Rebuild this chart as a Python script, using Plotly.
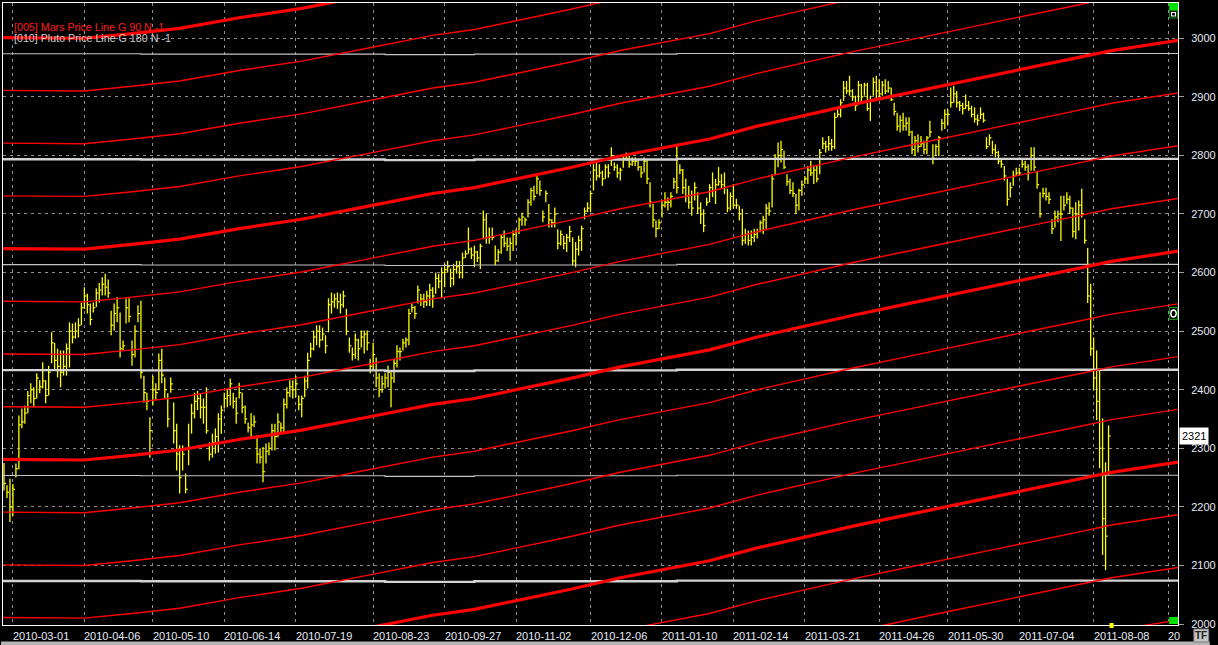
import plotly.graph_objects as go

# ---------------- data ----------------
highs = [2275,2237,2248,2239,2274,2356,2368,2373,2398,2411,2404,2428,2416,2447,2416,2441,2498,2480,2470,2467,
         2467,2479,2515,2513,2515,2522,2549,2575,2564,2547,2549,2573,2582,2592,2598,2588,2535,2547,2558,2532,
         2484,2556,2556,2484,2510,2544,2552,2424,2395,2353,2424,2411,2462,2470,2421,2394,2421,2378,2342,2305,
         2305,2257,2342,2376,2395,2398,2394,2385,2404,2310,2325,2334,2360,2373,2395,2402,2419,2395,2387,
         2412,2395,2373,2344,2360,2356,2322,2300,2302,2308,2310,2342,2342,2360,2344,2385,2404,2416,2416,2424,
         2390,2390,2424,2463,2480,2501,2510,2510,2506,2493,2556,2566,2564,2566,2564,2569,2538,2489,2472,2496,
         2487,2501,2501,2501,2453,2480,2455,2428,2424,2428,2441,2430,2453,2476,2472,2487,2489,2538,2547,2543,
         2578,2564,2564,2569,2581,2575,2600,2598,2609,2615,2620,2607,2615,2620,2620,2634,2638,
         2677,2643,2646,2637,2649,2706,2700,2677,2677,2646,2640,2666,2672,2660,2660,2672,2674,2694,2702,2694,
         2725,2745,2748,2765,2757,2706,2740,2717,2691,2711,2674,2672,2663,2666,2680,2660,2652,2663,2680,2711,
         2720,2740,2785,2788,2785,2774,2785,2785,2814,2788,2785,2779,2800,2805,2800,2797,2797,2794,2782,2797,
         2794,2754,2717,2689,2691,2723,2737,2728,2737,2762,2820,2785,2777,2760,2748,2740,2754,2737,2720,2708,
         2728,2751,
         2771,2760,2780,2768,2771,2743,2737,2751,2726,2714,2709,2675,2672,2672,2675,2675,2689,2697,2717,2720,
         2768,2802,2822,2825,2808,2768,2760,2754,2734,2743,2757,2765,2782,2791,2782,2782,2811,2831,2825,2833,
         2828,2873,2879,2896,2927,2927,2936,2913,2902,2927,2922,2924,2924,2902,2933,2936,2930,2927,2930,2927,
         2916,2890,2873,2868,2873,2865,2865,2842,2833,2836,2833,2825,2833,2859,2819,2819,2833,2862,2879,
         2879,2916,2919,2910,2893,2890,2904,2893,2885,2882,2870,2882,2873,2831,2836,2825,2819,2808,2794,2782,
         2760,2754,2774,2779,2779,2794,2791,2785,2814,2814,2774,2737,2745,2745,2737,2691,2706,2706,2731,2731,
         2737,2731,2711,2720,2723,2743,2691,2642,2581,2489,2467,2433,2351,2276,2339]

lows = [2228,2215,2174,2185,2250,2264,2334,2342,2360,2377,2370,2385,2394,2402,2377,2390,2445,2433,2421,2404,
        2424,2424,2438,2479,2487,2489,2510,2538,2530,2510,2532,2541,2549,2561,2561,2557,2493,2501,2515,2455,
        2467,2513,2515,2441,2455,2515,2419,2378,2365,2284,2373,2382,2399,2411,2385,2336,2395,2308,2262,2223,
        2262,2223,2271,2325,2351,2365,2351,2342,2325,2279,2284,2291,2293,2325,2368,2370,2373,2368,2342,
        2385,2360,2342,2327,2317,2336,2274,2274,2242,2274,2288,2296,2296,2319,2325,2327,2368,2387,2385,2387,
        2365,2353,2387,2402,2455,2467,2476,2472,2484,2462,2498,2530,2540,2538,2530,2540,2493,2463,2450,2453,
        2450,2472,2462,2467,2428,2433,2404,2387,2395,2402,2404,2370,2412,2438,2450,2467,2472,2476,2532,2521,
        2547,2543,2540,2543,2543,2540,2564,2573,2556,2575,2600,2575,2578,2598,2590,2590,2625,
        2632,2623,2609,2618,2606,2657,2649,2649,2655,2612,2618,2632,2643,2637,2620,2637,2646,2666,2680,2680,
        2694,2714,2723,2734,2731,2686,2720,2677,2677,2677,2640,2646,2640,2635,2652,2612,2609,2629,2637,2691,
        2703,2703,2740,2757,2762,2748,2760,2762,2782,2774,2762,2757,2779,2791,2779,2782,2782,2774,2762,2771,
        2751,2711,2677,2660,2674,2694,2711,2706,2711,2743,2735,2768,2734,2720,2709,2697,2723,2700,2683,2669,
        2714,2720,
        2729,2717,2748,2743,2734,2703,2706,2709,2709,2689,2646,2649,2646,2646,2652,2658,2669,2666,2675,2697,
        2711,2768,2780,2788,2777,2748,2734,2729,2700,2706,2731,2751,2751,2765,2751,2754,2768,2811,2805,2808,
        2808,2811,2865,2865,2893,2905,2902,2893,2876,2887,2890,2902,2876,2859,2902,2893,2899,2902,2905,2907,
        2893,2868,2842,2839,2842,2842,2833,2802,2799,2805,2814,2802,2802,2831,2785,2799,2799,2842,2845,
        2851,2882,2890,2882,2876,2870,2879,2876,2865,2856,2851,2862,2856,2811,2817,2802,2797,2785,2779,2757,
        2714,2728,2748,2765,2765,2779,2774,2757,2774,2774,2743,2694,2728,2723,2717,2666,2677,2686,2654,2706,
        2717,2700,2660,2657,2672,2694,2649,2548,2458,2399,2348,2266,2118,2092,2254]

closes = [2240,2225,2200,2230,2265,2340,2345,2360,2390,2400,2385,2420,2405,2415,2390,2430,2480,2450,2440,2430,
          2440,2470,2500,2490,2500,2510,2540,2560,2545,2520,2540,2565,2570,2580,2575,2565,2510,2530,2540,2470,
          2475,2540,2525,2460,2500,2530,2430,2395,2380,2330,2400,2395,2450,2425,2400,2350,2410,2330,2290,2250,
          2290,2230,2300,2360,2380,2385,2370,2370,2330,2290,2310,2320,2350,2365,2385,2390,2410,2380,2360,
          2395,2370,2350,2335,2340,2345,2290,2285,2260,2295,2300,2330,2320,2345,2335,2375,2395,2405,2400,2410,
          2375,2385,2415,2450,2470,2490,2500,2485,2495,2475,2545,2550,2555,2550,2545,2560,2500,2475,2460,2485,
          2470,2490,2495,2480,2440,2460,2420,2400,2410,2420,2430,2420,2445,2465,2465,2480,2485,2530,2540,2530,
          2570,2555,2550,2560,2570,2560,2590,2585,2600,2605,2610,2590,2605,2610,2600,2625,2632,
          2640,2630,2635,2625,2645,2690,2660,2660,2660,2620,2635,2660,2650,2645,2650,2665,2670,2690,2695,2690,
          2720,2740,2730,2760,2740,2695,2735,2690,2685,2700,2650,2665,2650,2660,2670,2620,2640,2655,2675,2705,
          2710,2735,2775,2765,2770,2760,2780,2770,2800,2780,2770,2775,2795,2795,2785,2790,2790,2780,2770,2790,
          2760,2720,2690,2675,2685,2715,2720,2720,2730,2755,2745,2775,2745,2730,2720,2710,2745,2710,2700,2680,
          2720,2745,
          2740,2750,2755,2750,2745,2710,2730,2715,2715,2700,2655,2665,2655,2660,2665,2670,2685,2690,2710,2705,
          2760,2795,2800,2810,2780,2755,2740,2735,2715,2740,2750,2760,2775,2770,2775,2760,2805,2820,2815,2820,
          2815,2865,2870,2890,2915,2910,2910,2900,2885,2920,2900,2920,2880,2895,2925,2910,2905,2920,2910,2915,
          2895,2875,2850,2860,2850,2855,2840,2810,2825,2815,2820,2810,2830,2840,2795,2815,2830,2855,2870,
          2870,2890,2905,2890,2885,2880,2885,2880,2870,2862,2860,2870,2860,2815,2830,2810,2805,2790,2785,2765,
          2725,2745,2765,2770,2770,2785,2780,2770,2800,2780,2750,2700,2735,2730,2725,2675,2695,2700,2700,2715,
          2725,2710,2670,2700,2715,2700,2655,2560,2470,2420,2380,2300,2180,2150,2321]

# x-axis: bar positions of the date labels
tick_pos = [3, 27, 50, 74, 98, 124, 148, 172, 197, 221, 245, 269, 294, 317, 341, 366, 391]
tick_text = ["2010-03-01", "2010-04-06", "2010-05-10", "2010-06-14", "2010-07-19", "2010-08-23",
             "2010-09-27", "2010-11-02", "2010-12-06", "2011-01-10", "2011-02-14", "2011-03-21",
             "2011-04-26", "2011-05-30", "2011-07-04", "2011-08-08", "20"]
price_ticks = [2000, 2100, 2200, 2300, 2400, 2500, 2600, 2700, 2800, 2900, 3000]

# Mars price line (G 90): base track read at sample bars, drawn at 90-point steps
mars_idx = [-1, 27, 43, 59, 79, 100, 122, 144, 158, 174, 190, 207, 224, 237, 253, 270, 286, 303, 316, 338, 360, 372, 395]
mars_base = [2281, 2280, 2288, 2297, 2315, 2331, 2353, 2375, 2385, 2402, 2419, 2439, 2455, 2468, 2490, 2510, 2528,
             2546, 2560, 2583, 2606, 2619, 2637]
mars_steps = [-720, -630, -540, -450, -360, -270, -180, -90, 0, 90, 180, 270, 360, 450, 540, 630, 720]

# Pluto price line (G 180)
pluto_idx = [-1, 46, 128, 158, 226, 395]
pluto_base = [2073.5, 2073.0, 2072.0, 2073.0, 2074.0, 2073.3]
pluto_steps = [0, 180, 360, 540, 720, 900]

# ---------------- figure ----------------
FONT = "Liberation Sans, Arial, sans-serif"
TXT = "#e4eaf6"
fig = go.Figure()

# HLC bars
bx, by, cx, cy = [], [], [], []
for k, (h, l, c) in enumerate(zip(highs, lows, closes)):
    bx += [k, k, None]
    by += [l, h, None]
    cx += [k, k + 0.7, None]
    cy += [c, c, None]
fig.add_trace(go.Scatter(x=bx, y=by, mode="lines", line=dict(color="#ffff00", width=1.3),
                         hoverinfo="skip", showlegend=False))
fig.add_trace(go.Scatter(x=cx, y=cy, mode="lines", line=dict(color="#ffff00", width=1.2),
                         hoverinfo="skip", showlegend=False))

# Pluto lines
for s in pluto_steps:
    thick = (s % 360 == 0)
    fig.add_trace(go.Scatter(x=pluto_idx, y=[b + s for b in pluto_base], mode="lines",
                             line=dict(color="#d2d2d2" if thick else "#c4c4c4", width=2.4 if thick else 1.1,
                                       shape="hv"),
                             hoverinfo="skip", showlegend=False))

# Mars lines
for s in mars_steps:
    thick = (s % 360 == 0)
    fig.add_trace(go.Scatter(x=mars_idx, y=[b + s for b in mars_base], mode="lines",
                             line=dict(color="#ff0000", width=3.2 if thick else 1.4),
                             hoverinfo="skip", showlegend=False))

# plot-area geometry in pixels (for decorations only)
W, H = 1218, 645
PL, PR, PT, PB = 2, 1186, 2, 625


def px(X):
    return (X - PL) / (PR - PL)


def py(Y):
    return (PB - Y) / (PB - PT)


grid = dict(showgrid=True, gridcolor="#8e8e8e", gridwidth=1, griddash="3px,4px")
fig.update_layout(
    width=W, height=H,
    margin=dict(l=PL, r=W - PR, t=PT, b=H - PB, pad=0),
    paper_bgcolor="black", plot_bgcolor="black",
    showlegend=False,
    font=dict(family=FONT, size=11, color=TXT),
    xaxis=dict(range=[-1 / 3, (PR - 3) / 3], tickvals=tick_pos, ticktext=tick_text, showticklabels=False,
               ticks="", zeroline=False, showline=True, linecolor="white", linewidth=1, mirror=True,
               fixedrange=True, **grid),
    yaxis=dict(range=[1998.3, 3060.2], side="right", tickvals=price_ticks,
               ticktext=[str(v) for v in price_ticks], ticks="outside", ticklen=5, tickcolor="#a0a0a0",
               tickfont=dict(family=FONT, size=11, color=TXT), ticklabelstandoff=5,
               zeroline=False, showline=True, linecolor="white", linewidth=1, mirror=True,
               fixedrange=True, **grid),
)

ann = []
# date labels, left-aligned at their gridlines
for p, t in zip(tick_pos, tick_text):
    ann.append(dict(x=p, xref="x", y=0, yref="paper", text=t, showarrow=False, xanchor="left",
                    yanchor="top", xshift=-2, yshift=-3, font=dict(family=FONT, size=11, color=TXT)))
# legend texts
ann.append(dict(x=px(11), xref="paper", y=py(26.5), yref="paper", text="[005] Mars Price Line G 90 N -1",
                showarrow=False, xanchor="left", yanchor="middle",
                font=dict(family=FONT, size=10.7, color="#ff1c1c")))
ann.append(dict(x=px(11), xref="paper", y=py(37.5), yref="paper", text="[010] Pluto Price Line G 180 N -1",
                showarrow=False, xanchor="left", yanchor="middle",
                font=dict(family=FONT, size=10.7, color="#cfcfcf")))
# last price box
ann.append(dict(x=1, xref="paper", y=closes[-1], yref="y", text=str(closes[-1]), showarrow=False,
                xanchor="left", yanchor="middle", xshift=1, bgcolor="white", borderpad=2,
                font=dict(family=FONT, size=11, color="black")))
# TF button text
ann.append(dict(x=px(1209.5), xref="paper", y=py(635.5), yref="paper", text="<b>TF</b>", showarrow=False,
                xanchor="center", yanchor="middle", font=dict(family=FONT, size=10, color="#202020")))
fig.update_layout(annotations=ann)

shapes = [
    # window bottom strip
    dict(type="rect", xref="paper", yref="paper", x0=px(0), x1=px(W), y0=py(H), y1=py(641.5),
         fillcolor="#b4b4b4", line=dict(width=0), layer="above"),
    # TF button
    dict(type="rect", xref="paper", yref="paper", x0=px(1202), x1=px(1217), y0=py(642), y1=py(629),
         fillcolor="#c4c4c4", line=dict(color="#7a7a7a", width=1), layer="above"),
    # top-right green block and box
    dict(type="rect", xref="paper", yref="paper", x0=px(1177), x1=px(1186), y0=py(9), y1=py(2),
         fillcolor="#00e000", line=dict(width=0), layer="above"),
    dict(type="rect", xref="paper", yref="paper", x0=px(1177.5), x1=px(1185.5), y0=py(17), y1=py(9.5),
         fillcolor="black", line=dict(color="#0a9a0a", width=1), layer="above"),
    dict(type="rect", xref="paper", yref="paper", x0=px(1179.5), x1=px(1183.5), y0=py(15), y1=py(11.5),
         fillcolor="black", line=dict(color="white", width=1.2), layer="above"),
    # circle marker box
    dict(type="rect", xref="paper", yref="paper", x0=px(1177.5), x1=px(1185.5), y0=py(319), y1=py(307),
         fillcolor="black", line=dict(color="#0a9a0a", width=1), layer="above"),
    dict(type="circle", xref="paper", yref="paper", x0=px(1178.8), x1=px(1184.2), y0=py(316.5), y1=py(309.5),
         fillcolor="black", line=dict(color="white", width=1.5), layer="above"),
    # bottom-right green block
    dict(type="rect", xref="paper", yref="paper", x0=px(1177), x1=px(1186), y0=py(624), y1=py(617),
         fillcolor="#00e000", line=dict(width=0), layer="above"),
    # yellow marker on the time axis
    dict(type="rect", xref="paper", yref="paper", x0=px(1117), x1=px(1121), y0=py(628), y1=py(623),
         fillcolor="#ffff00", line=dict(width=0), layer="above"),
]
fig.update_layout(shapes=shapes)

fig.write_html("out.html", config={"displayModeBar": False},
               post_script="document.body.style.margin='0';document.body.style.overflow='hidden';")
